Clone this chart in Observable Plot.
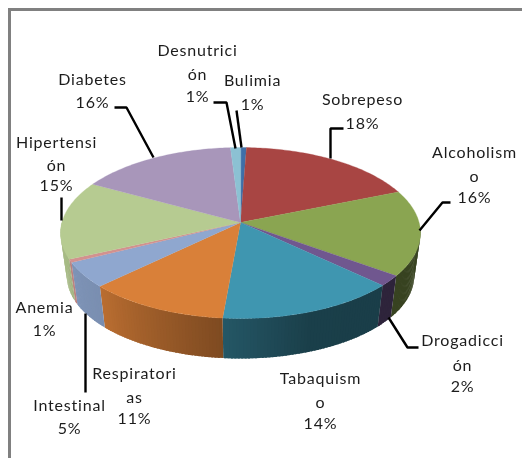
<!DOCTYPE html>
<html><head><meta charset="utf-8">
<script src="https://cdn.jsdelivr.net/npm/d3@7"></script>
<script src="https://cdn.jsdelivr.net/npm/@observablehq/plot@0.6"></script>
<style>
html,body{margin:0;padding:0;background:#fff;overflow:hidden}
#frame{position:absolute;left:0;top:0;width:522px;height:458px;overflow:hidden}
#frame:before{content:"";position:absolute;left:8px;top:8px;right:-10px;bottom:-10px;border-left:3px solid #808080;border-top:3px solid #808080}
svg{position:absolute;left:0;top:0;filter:blur(.35px)}
</style></head><body><div id="frame"></div>
<script>
// Slice order runs clockwise from twelve o'clock
const categories = ["Bulimia","Sobrepeso","Alcoholismo","Drogadicción","Tabaquismo","Respiratorias","Intestinal","Anemia","Hipertensión","Diabetes","Desnutrición"];
const shares = [0.6, 18.2, 16.2, 2, 14.4, 11.4, 4.8, 0.6, 14.8, 16, 1];
const percentLabels = ["1%","18%","16%","2%","14%","11%","5%","1%","15%","16%","1%"];
const palette = ["#3f6fa8","#a84543","#8aa551","#70578f","#3f96b0","#d98039","#8fa7cf","#d3918f","#b6cb91","#a896ba","#8cc1d3"];

// Label lines, wrapped the way the chart wraps them, with their placement
const labelLines = [
  ["Bulimia"],["Sobrepeso"],["Alcoholism","o"],["Drogadicci","ón"],["Tabaquism","o"],
  ["Respiratori","as"],["Intestinal"],["Anemia"],["Hipertensi","ón"],["Diabetes"],["Desnutrici","ón"]
];
const labelX = [252,362,474,462,320,134,69,44,56,92,197];
const labelY = [[80,104],[99,123],[152,176,197],[340,365,386],[378,402,423],[373,397,418],[405,428],[307,330],[142,165,185],[79,102],[50,74,96]];
const leaders = [
  [[236,110],[241,147]],
  [[343,128],[330,128],[330,158]],
  [[450,202],[442,202],[419,230]],
  [[388,317],[407,347],[418,347]],
  [[85,313],[85,392]],
  [[61,197],[61,220]],
  [[114,107],[126,107],[153,157]],
  [[213,102],[226,102],[235,148]]
];

// Pie projection
const apex = {x:240, y:222}, K = 0.1228, A = 84.2, C = 178.6, S = 0.965, D = 43.4;
function rimTop(t){const X=Math.sin(t),Y=Math.cos(t),d=1+K*Y;return [apex.x+C*X/d, apex.y-A*Y/d];}
function rimBottom(t){const X=Math.sin(t),Y=Math.cos(t),d=1+K*Y;return [apex.x+S*C*X/d, apex.y-S*A*Y/d+D];}
const arcs = d3.pie().sort(null)(shares);
const deg = Math.PI/180;
const shade = d3.scaleLinear().domain([95,160,185,225,265]).range([.4,.42,.58,.85,.92]).clamp(true);
const darken = (c,f)=>{const r=d3.rgb(c);return d3.rgb(r.r*f,r.g*f,r.b*f).formatHex();};

const topPts = [], sidePts = [];
arcs.forEach((a,i)=>{
  const n = Math.max(2,Math.ceil((a.endAngle-a.startAngle)/deg));
  topPts.push({id:i,x:apex.x,y:apex.y,fill:palette[i]});
  for(let k=0;k<=n;k++){
    const p=rimTop(a.startAngle+(a.endAngle-a.startAngle)*k/n);
    topPts.push({id:i,x:p[0],y:p[1],fill:palette[i]});
  }
  // side wall, one narrow facet per degree so the shading can vary; each overlaps the next
  const lo=Math.max(a.startAngle,92*deg), hi=Math.min(a.endAngle,272*deg);
  for(let t=lo;t<hi-1e-6;t+=1*deg){
    const e=Math.min(t+1.6*deg,hi), id=i+"-"+t;
    const f=darken(palette[i],shade((t+.5*deg)/deg));
    [rimTop(t),rimTop(e),rimBottom(e),rimBottom(t)].forEach(p=>sidePts.push({id,x:p[0],y:p[1],fill:f}));
  }
});
const textRows = categories.flatMap((c,i)=>{
  const lines=[...labelLines[i],percentLabels[i]];
  return lines.map((s,j)=>({s,x:labelX[i],y:labelY[i][j]}));
});
const leaderPts = leaders.flatMap((l,i)=>l.map(p=>({id:i,x:p[0],y:p[1]})));

const chart = Plot.plot({
  width:522,height:458,margin:0,
  x:{domain:[0,522],range:[0,522],axis:null},
  y:{domain:[0,458],range:[0,458],axis:null},
  style:{background:"transparent",fontFamily:"Lato"},
  marks:[
    Plot.line(sidePts,{x:"x",y:"y",z:"id",fill:"fill",curve:"linear-closed",strokeOpacity:0}),
    Plot.line(topPts,{x:"x",y:"y",z:"id",fill:"fill",stroke:"fill",strokeWidth:.3,curve:"linear-closed"}),
    Plot.line(leaderPts,{x:"x",y:"y",z:"id",stroke:"#000",strokeWidth:2.4,strokeLinejoin:"miter",strokeLinecap:"butt"}),
    Plot.text(textRows,{x:"x",y:"y",text:"s",fontSize:16,fill:"#1c1c1c"})
  ]
});
chart.querySelectorAll("text").forEach(t=>t.style.letterSpacing="0.8px");
document.getElementById("frame").appendChild(chart);
</script></body></html>
